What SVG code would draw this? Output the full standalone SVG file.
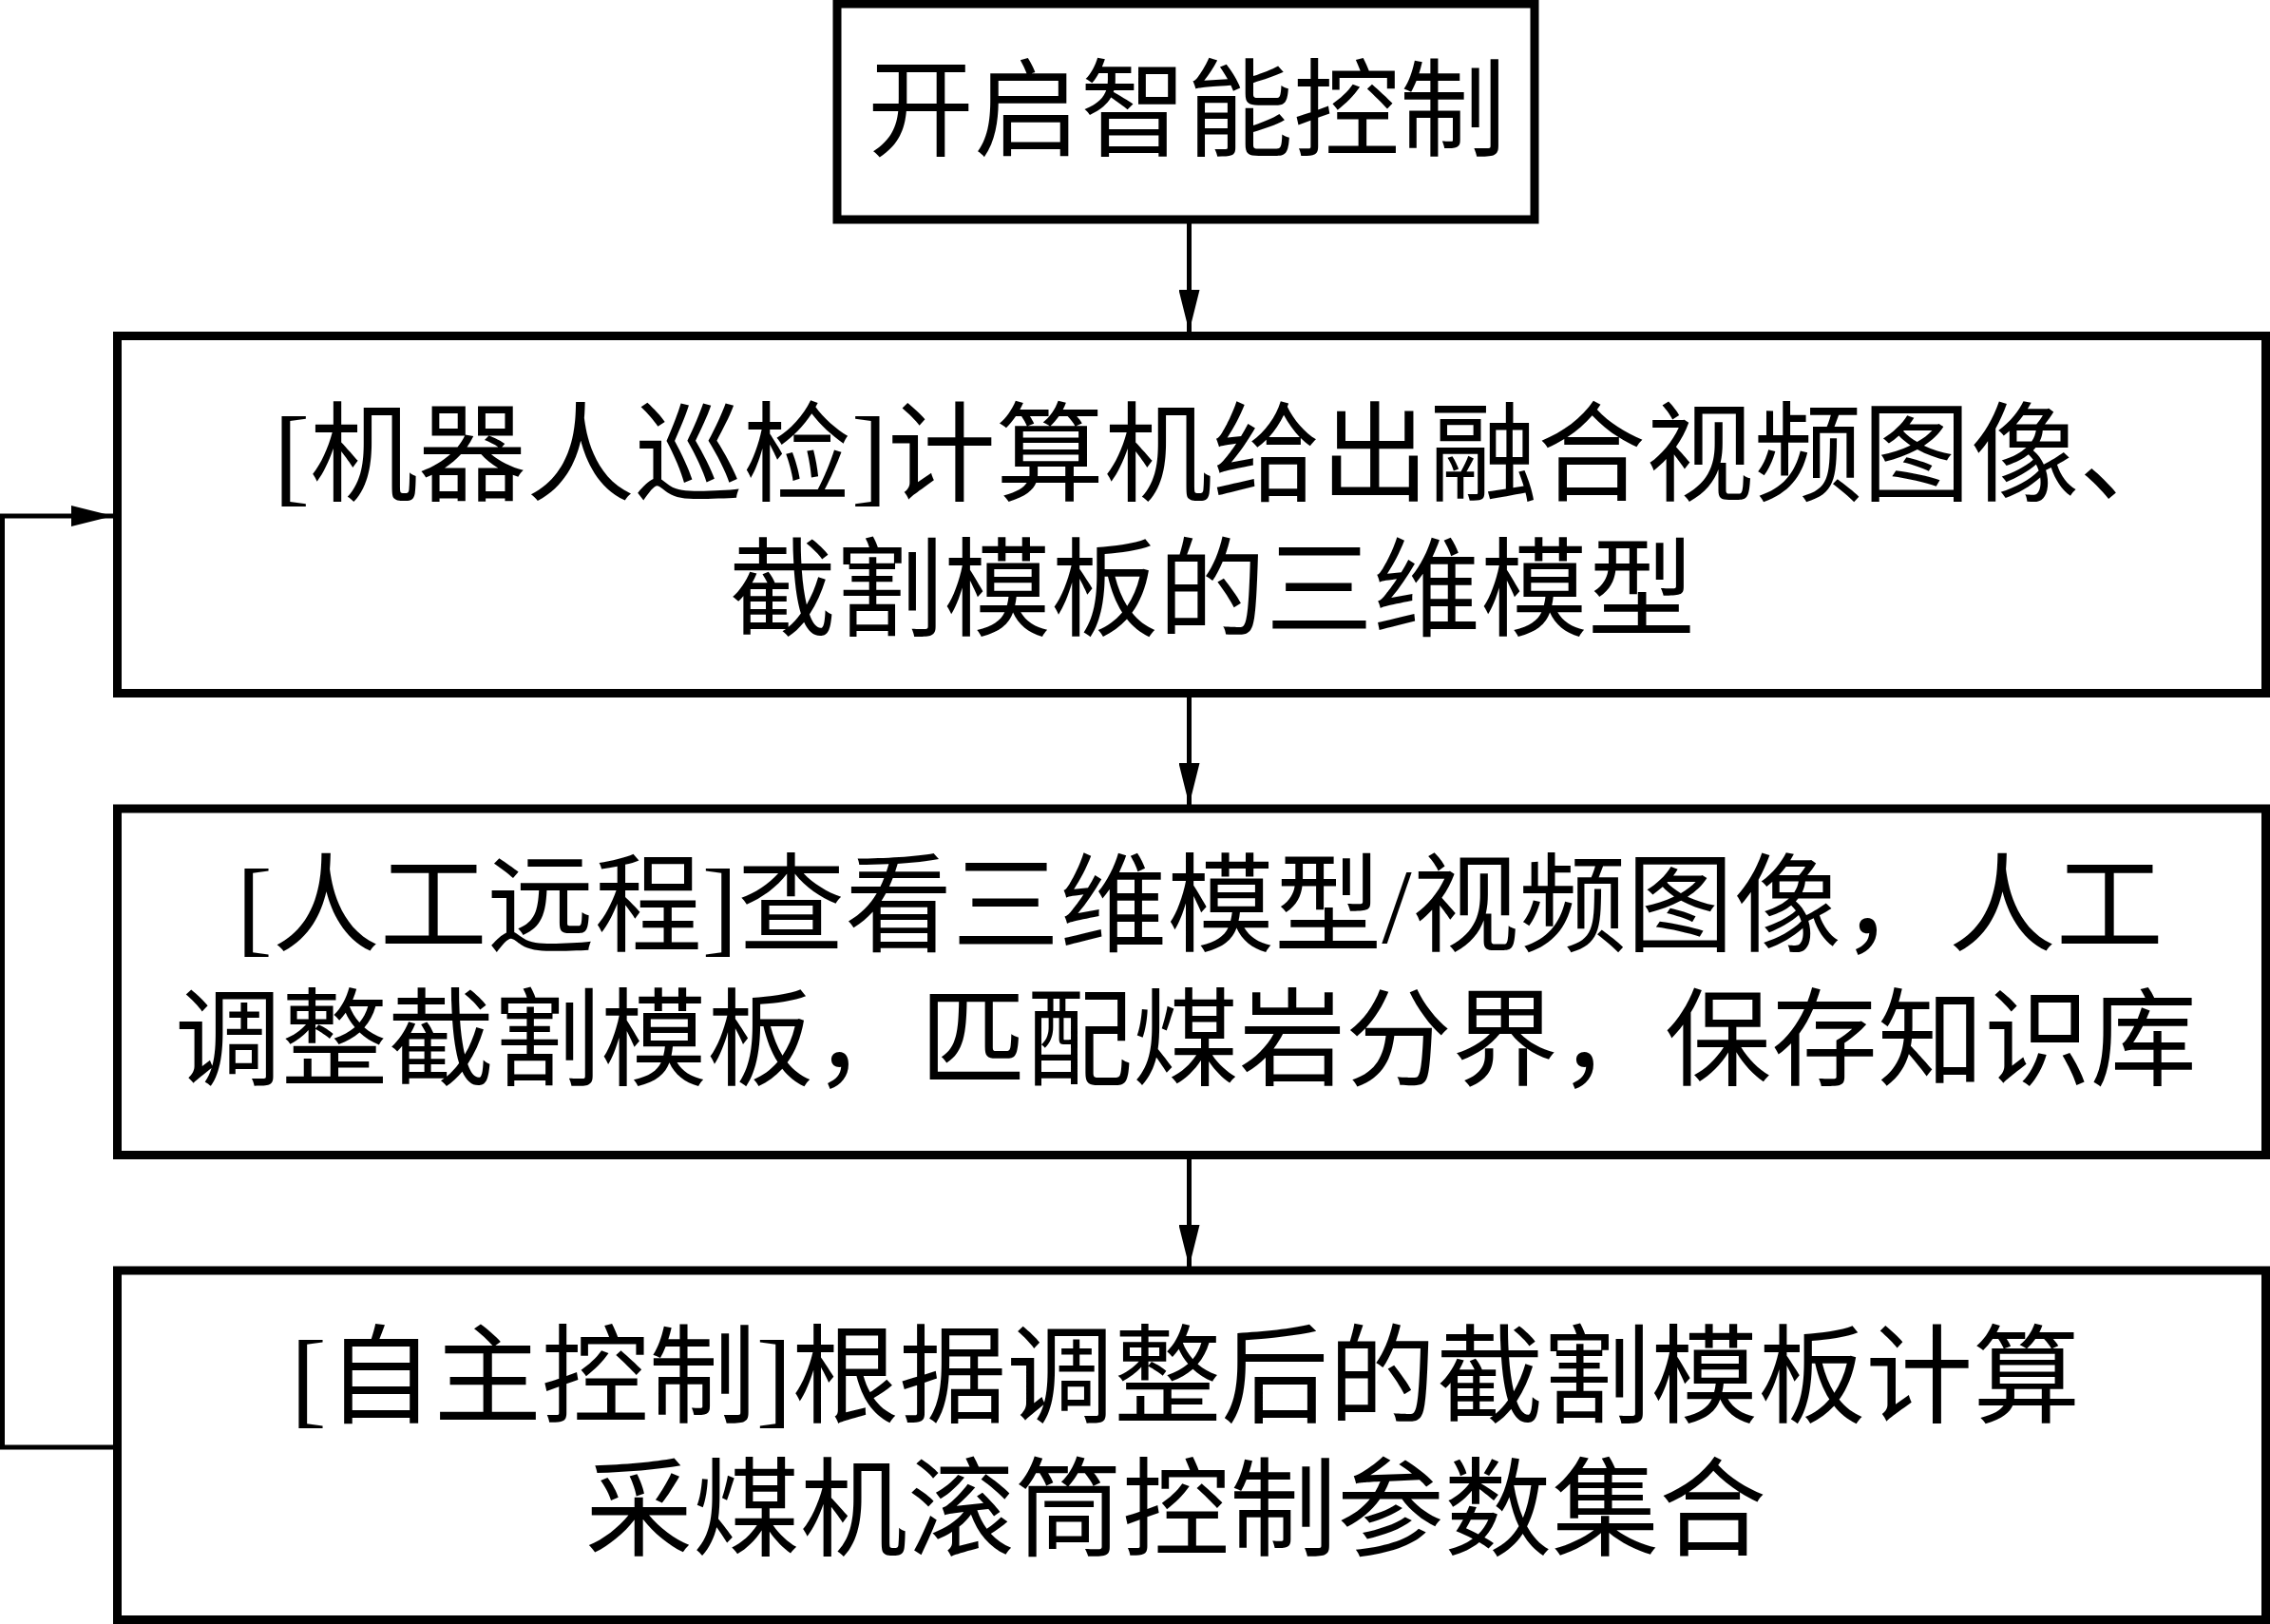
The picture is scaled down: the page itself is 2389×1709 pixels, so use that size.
<svg xmlns="http://www.w3.org/2000/svg" width="2389" height="1709" viewBox="0 0 2389 1709">
<style>
.box{fill:#fff;stroke:#000;stroke-width:9}
.t{font-family:"Liberation Serif","Noto Sans CJK SC",serif;font-size:113px;fill:#000}
.c{fill:none;stroke:#000;stroke-width:5}
</style>
<defs>
<marker id="ah" markerUnits="userSpaceOnUse" markerWidth="44" markerHeight="22" refX="44" refY="11" orient="auto">
<path d="M0,0 L44,11 L0,22 z" fill="#000"/>
</marker>
</defs>
<rect width="2389" height="1709" fill="#fff"/>
<g id="connectors">
<line class="c" x1="1251.5" y1="231" x2="1251.5" y2="349" marker-end="url(#ah)"/>
<line class="c" x1="1251.5" y1="729" x2="1251.5" y2="847" marker-end="url(#ah)"/>
<line class="c" x1="1251.5" y1="1215" x2="1251.5" y2="1333" marker-end="url(#ah)"/>
<path class="c" d="M119,1523 H2.5 V543 H119" marker-end="url(#ah)"/>
</g>
<g id="start">
<rect class="box" x="881" y="4" width="734" height="227"/>
<text class="t" x="1249" y="156" text-anchor="middle" style="font-size:112px">开启智能控制</text>
</g>
<g id="inspect">
<rect class="box" x="123.5" y="353.5" width="2261" height="376"/>
<text class="t" x="288" y="518" style="font-size:114px">[机器人巡检]计算机给出融合视频图像、</text>
<text class="t" x="767" y="660">截割模板的三维模型</text>
</g>
<g id="manual">
<rect class="box" x="123.5" y="851" width="2261" height="364.5"/>
<text class="t" x="249" y="992">[人工远程]查看三维模型/视频图像，人工</text>
<text class="t" x="184" y="1134" style="font-size:112px">调整截割模板，匹配煤岩分界，保存知识库</text>
</g>
<g id="auto">
<rect class="box" x="123.5" y="1337" width="2261" height="367.5"/>
<text class="t" x="306" y="1488">[自主控制]根据调整后的截割模板计算</text>
<text class="t" x="616" y="1628">采煤机滚筒控制参数集合</text>
</g>
</svg>
